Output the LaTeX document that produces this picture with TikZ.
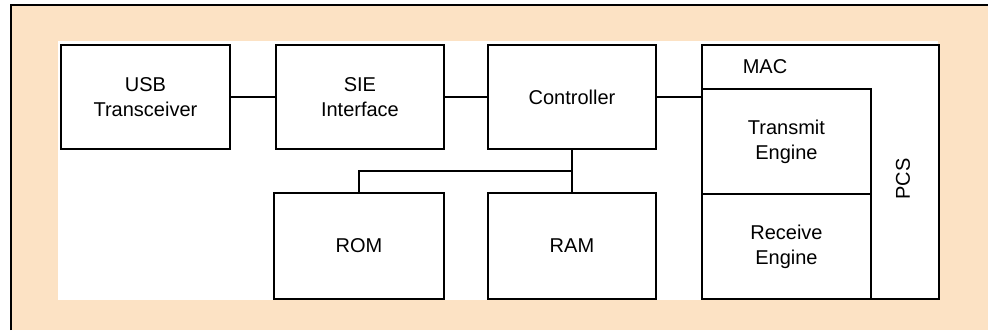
\documentclass[tikz,border=0pt]{standalone}
\usepackage{fontspec}
\setmainfont{Liberation Sans}
\usetikzlibrary{calc}
\definecolor{beige}{RGB}{252,226,196}
\begin{document}
\begin{tikzpicture}[x=1pt,y=-1pt,
  blk/.style={draw, line width=1.9pt, fill=white, inner sep=0pt, align=center,
    anchor=north west, font=\fontsize{20}{25}\selectfont},
  wire/.style={line width=1.9pt},
  lbl/.style={inner sep=0pt, font=\fontsize{20}{25}\selectfont}]
\useasboundingbox (0,0) rectangle (988,330);
\fill[beige] (11,5) rectangle (988,330);
\draw[line width=1.4pt] (11,330) -- (11,5) -- (988,5);
\fill[white] (58,41) rectangle (938,300);
% blocks
\node[blk, minimum width=169pt, minimum height=104pt] (usb) at (60,44) {USB\\Transceiver};
\node[blk, minimum width=168pt, minimum height=104pt] (sie) at (275,44) {SIE\\Interface};
\node[blk, minimum width=168pt, minimum height=104pt] (ctrl) at (487,44) {Controller};
\node[blk, minimum width=170pt, minimum height=106pt] (rom) at (273,192) {ROM};
\node[blk, minimum width=168pt, minimum height=106pt] (ram) at (487,192) {RAM};
\node[blk, minimum width=237pt, minimum height=254pt] (mac) at (701,44) {};
\node[blk, minimum width=169pt, minimum height=105pt] (tx) at (701,88) {Transmit\\Engine};
\node[blk, minimum width=169pt, minimum height=105pt] (rx) at (701,193) {Receive\\Engine};
\node[lbl] (maclbl) at (765,67) {MAC};
\node[lbl, rotate=90] (pcs) at (903,179) {PCS};
% connectors
\draw[wire] (usb.east) -- (sie.west);
\draw[wire] (sie.east) -- (ctrl.west);
\draw[wire] (ctrl.east) -- (ctrl.east -| mac.west);
\draw[wire] (ctrl.south) -- (ram.north);
\coordinate (bus) at ($(ctrl.south)!0.5!(ram.north)$);
\draw[wire] (bus) -| (rom.north);
\end{tikzpicture}
\end{document}
